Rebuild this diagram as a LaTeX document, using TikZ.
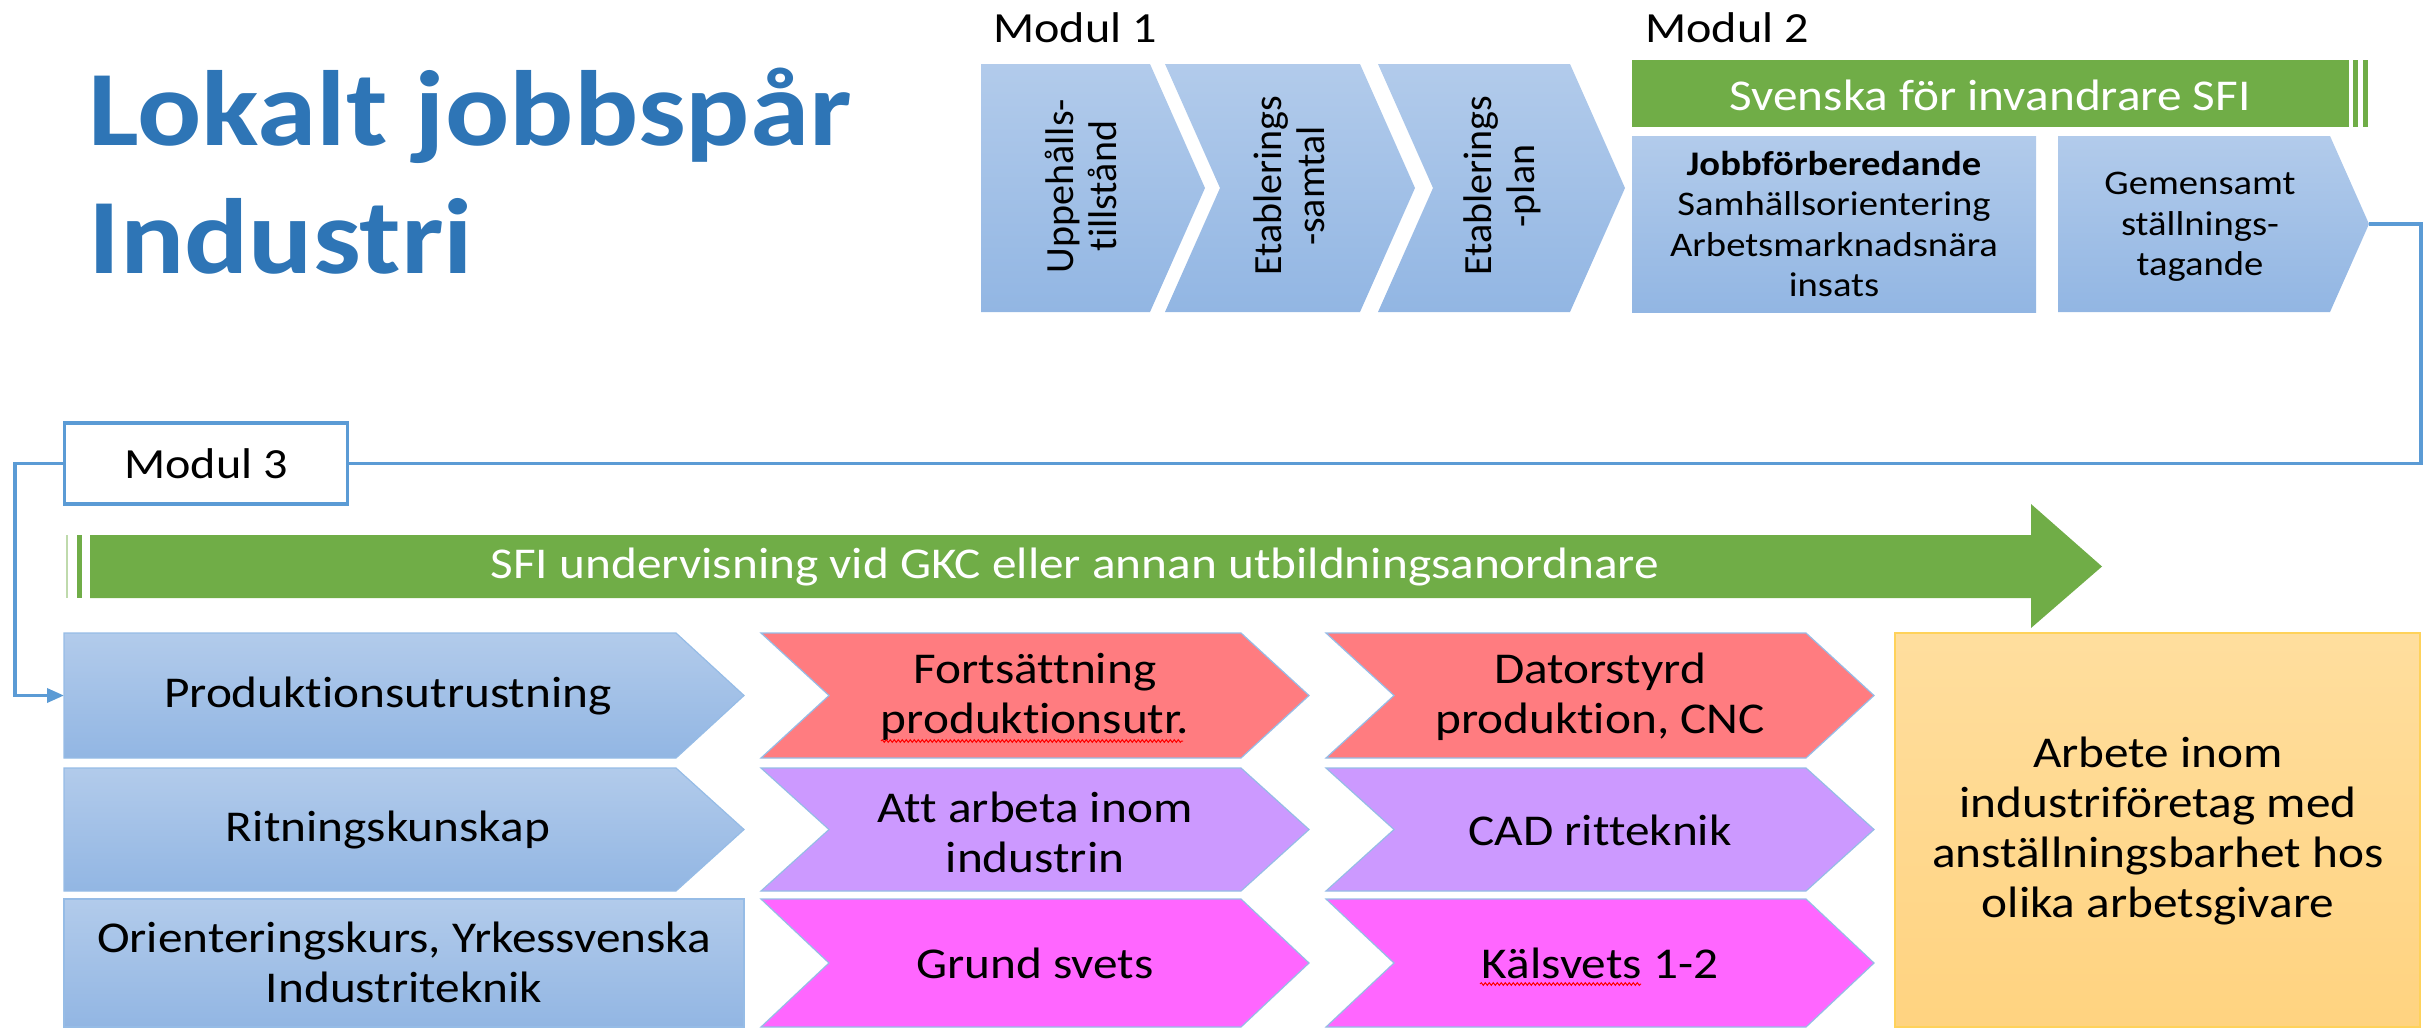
\documentclass[tikz,border=0pt]{standalone}
\usepackage{fontspec}
\setmainfont{Carlito}[FakeStretch=1.12, Ligatures={CommonOff,ContextualOff,RequiredOff}, Contextuals=AlternateOff]
\newfontfamily\rotfont{Carlito}[Ligatures={CommonOff,ContextualOff,RequiredOff}, Contextuals=AlternateOff]
\usetikzlibrary{arrows.meta,decorations.pathmorphing}

\definecolor{titleblue}{RGB}{46,117,182}
\definecolor{lineblue}{RGB}{91,155,213}
\definecolor{bluetop}{RGB}{178,203,235}
\definecolor{bluebot}{RGB}{146,182,227}
\definecolor{edgeblue}{RGB}{150,188,230}
\definecolor{sfigreen}{RGB}{112,173,71}
\definecolor{redfill}{RGB}{255,124,128}
\definecolor{lilac}{RGB}{204,153,255}
\definecolor{magentafill}{RGB}{255,102,255}
\definecolor{orangetop}{RGB}{255,222,158}
\definecolor{orangebot}{RGB}{255,211,128}
\definecolor{orangeedge}{RGB}{255,210,90}

% #1 style, #2 left x, #3 top-right x, #4 tip x, #5 top y, #6 bottom y
\newcommand\pentpath[6]{%
  \path[#1] (#2,#5) -- (#3,#5) -- (#4,{(#5+#6)/2}) -- (#3,#6) -- (#2,#6) -- cycle;}
% same, #7 notch x
\newcommand\chevpath[7]{%
  \path[#1] (#2,#5) -- (#3,#5) -- (#4,{(#5+#6)/2}) -- (#3,#6) -- (#2,#6) -- (#7,{(#5+#6)/2}) -- cycle;}

\tikzset{
  bluefill/.style={top color=bluetop, bottom color=bluebot},
  bluecell/.style={bluefill, draw=edgeblue, line width=1.2pt},
  cell/.style={draw=edgeblue, line width=1.2pt},
  txt/.style={font=\fontsize{44}{50}\selectfont, align=center, inner sep=0pt, text=black},
  smalltxt/.style={font=\fontsize{34.5}{40.5}\selectfont, align=center, inner sep=0pt, text=black},
  rottxt/.style={font=\rotfont\fontsize{40}{43}\selectfont, align=center, rotate=90, inner sep=0pt, text=black},
  modtxt/.style={font=\fontsize{43}{50}\selectfont, inner sep=0pt, text=black},
  titletxt/.style={font=\bfseries\fontsize{107}{128}\selectfont, inner sep=0pt, text=titleblue},
  conn/.style={draw=lineblue, line width=3.5pt},
  squig/.style={draw=red, line width=1pt, decorate, decoration={snake, amplitude=1.3pt, segment length=4pt}}
}

\begin{document}
\begin{tikzpicture}[x=1pt,y=-1pt]
\useasboundingbox (0,0) rectangle (2435,1028);

% ---------- title ----------
\node[titletxt, anchor=base west] (t1) at (88,145) {Lokalt jobbspår};
\node[titletxt, anchor=base west] (t2) at (88,273) {Industri};

% ---------- Modul 1 ----------
\node[modtxt, anchor=base west] (mod1) at (993,42) {Modul 1};
\pentpath{bluefill}{981}{1150}{1205}{64}{312}
\chevpath{bluefill}{1165}{1360}{1415}{64}{312}{1220}
\chevpath{bluefill}{1378}{1570}{1625}{64}{312}{1433}
\node[rottxt] (upp) at (1081,186) {Uppehålls-\\tillstånd};
\node[rottxt] (etsam) at (1289,186) {Etablerings\\-samtal};
\node[rottxt] (etplan) at (1502,186) {Etablerings\\-plan};

% ---------- Modul 2 ----------
\node[modtxt, anchor=base west] (mod2) at (1645,42) {Modul 2};
\fill[sfigreen] (1632,60) rectangle (2349,127);
\fill[sfigreen] (2353,60) rectangle (2358,127);
\fill[sfigreen] (2363,60) rectangle (2368,127);
\node[txt, text=white] (sfi) at (1990,95) {Svenska för invandrare SFI};
\path[bluefill] (1632,136) rectangle (2036,312);
\pentpath{bluefill}{2058}{2330}{2369}{136}{312}
\node[smalltxt] (jobb) at (1834,224) {\textbf{Jobbförberedande}\\Samhällsorientering\\Arbetsmarknadsnära\\insats};
\node[smalltxt] (gem) at (2200,227) {Gemensamt\\ställnings-\\tagande};

% ---------- connectors ----------
\coordinate (gemtip) at (2369,224);
\coordinate (rr) at (2421,0);
\coordinate (ll) at (15,0);
\coordinate (prodin) at (64,695.5);
\node[modtxt, draw=lineblue, line width=3.5pt, fill=white, minimum width=283pt, minimum height=81pt] (mod3) at (206,463.5) {Modul 3};
\draw[conn] (gemtip) -- (gemtip -| rr) |- (mod3.east);
\draw[conn, -{Triangle[length=17pt,width=14pt]}] (mod3.west) -- (mod3.west -| ll) |- (prodin);

% ---------- SFI arrow ----------
\fill[sfigreen!45] (66,535) rectangle (68,598);
\fill[sfigreen] (77,535) rectangle (82,598);
\fill[sfigreen] (90,535) -- (2031,535) -- (2031,504) -- (2102,566.5) -- (2031,628) -- (2031,598) -- (90,598) -- cycle;
\node[txt, text=white] (sfi2) at (1075,567) {SFI undervisning vid GKC eller annan utbildningsanordnare};

% ---------- grid ----------
\pentpath{bluecell}{64}{676}{744}{633}{758}
\pentpath{bluecell}{64}{676}{744}{768}{891}
\path[bluecell] (64,899) rectangle (744,1027);
\chevpath{cell, fill=redfill}{761}{1241}{1309}{633}{758}{829}
\chevpath{cell, fill=lilac}{761}{1241}{1309}{768}{891}{829}
\chevpath{cell, fill=magentafill}{761}{1241}{1309}{899}{1027}{829}
\chevpath{cell, fill=redfill}{1326}{1806}{1874}{633}{758}{1394}
\chevpath{cell, fill=lilac}{1326}{1806}{1874}{768}{891}{1394}
\chevpath{cell, fill=magentafill}{1326}{1806}{1874}{899}{1027}{1394}
\path[draw=orangeedge, line width=2pt, top color=orangetop, bottom color=orangebot] (1895,633) rectangle (2420,1027);

\node[txt] (prod) at (388,695.5) {Produktionsutrustning};
\node[txt] (ritn) at (388,830) {Ritningskunskap};
\node[txt] (orient) at (404,962) {Orienteringskurs, Yrkessvenska\\Industriteknik};
\node[txt] (fort) at (1035,697) {Fortsättning\\produktionsutr.};
\node[txt] (att) at (1035,832) {Att arbeta inom\\industrin};
\node[txt] (grund) at (1035,963) {Grund svets};
\node[txt] (dator) at (1600,697) {Datorstyrd\\produktion, CNC};
\node[txt] (cad) at (1600,830) {CAD ritteknik};
\node[txt] (kals) at (1600,963) {Kälsvets 1-2};
\node[txt] (arb) at (2158,831) {Arbete inom\\industriföretag med\\anställningsbarhet hos\\olika arbetsgivare};

\draw[squig] (881,741) -- (1183,741);
\draw[squig] (1480,984) -- (1641,984);
\end{tikzpicture}
\end{document}
